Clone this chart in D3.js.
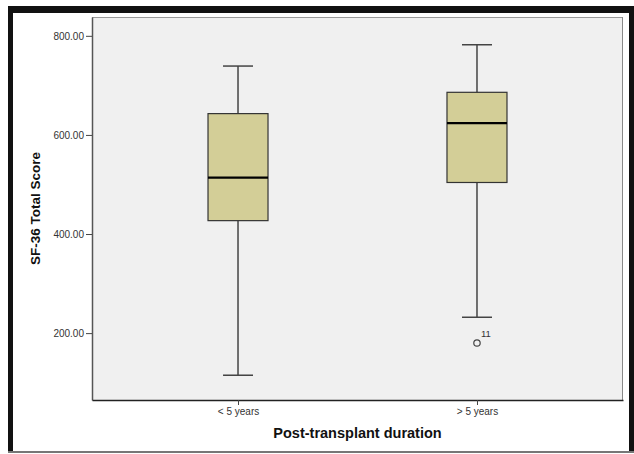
<!DOCTYPE html>
<html><head><meta charset="utf-8">
<script src="https://cdn.jsdelivr.net/npm/d3@7"></script>
<style>html,body{margin:0;padding:0;background:#fff;}svg{display:block;}</style>
</head><body>
<svg id="c" width="634" height="454"></svg>
<script>
const categories = ["< 5 years", "> 5 years"];
const whiskerLow  = [115, 232];
const q1          = [427, 504];
const median      = [514, 624];
const q3          = [643, 686];
const whiskerHigh = [739, 782];
const outliers    = [{cat: "> 5 years", value: 180, label: "11"}];
const yTicks      = [200, 400, 600, 800];

const svg = d3.select("#c");
const L = 92, R = 623, T = 17, B = 400;

// outer frame
svg.append("rect").attr("x",0).attr("y",0).attr("width",634).attr("height",454).attr("fill","#fff");
svg.append("rect").attr("x",8).attr("y",6).attr("width",626).attr("height",7).attr("fill","#111");
svg.append("rect").attr("x",8).attr("y",6).attr("width",5).attr("height",446).attr("fill","#111");
svg.append("rect").attr("x",629).attr("y",6).attr("width",5).attr("height",446).attr("fill","#111");
svg.append("rect").attr("x",8).attr("y",451).attr("width",626).attr("height",2).attr("fill","#777");

const y = d3.scaleLinear().domain([65, 838]).range([B, T]);
const x = d3.scalePoint().domain(categories).range([L, R]).padding(0.611);

// plot area
svg.append("rect").attr("x",L).attr("y",T).attr("width",R-L).attr("height",B-T)
  .attr("fill","#f0f0f0").attr("stroke","none");
svg.append("line").attr("x1",L).attr("x2",R).attr("y1",T+0.5).attr("y2",T+0.5).attr("stroke","#999");
svg.append("line").attr("x1",R-0.5).attr("x2",R-0.5).attr("y1",T).attr("y2",B).attr("stroke","#888");

// axes
const yAxis = d3.axisLeft(y).tickValues(yTicks).tickFormat(d3.format(".2f")).tickSizeInner(6).tickSizeOuter(0).tickPadding(2);
const gy = svg.append("g").attr("transform",`translate(${L},0)`).call(yAxis);
gy.select(".domain").attr("stroke","#555").attr("stroke-width",1.5);
gy.selectAll(".tick line").attr("stroke","#444");
gy.selectAll(".tick text").attr("fill","#333").style("font-family","Liberation Sans, Arial, sans-serif").style("font-size","10px");

const xAxis = d3.axisBottom(x).tickSizeInner(5).tickSizeOuter(0).tickPadding(3);
const gx = svg.append("g").attr("transform",`translate(0,${B})`).call(xAxis);
gx.select(".domain").attr("stroke","#222").attr("stroke-width",1.5);
gx.selectAll(".tick line").attr("stroke","#444");
gx.selectAll(".tick text").attr("fill","#333").style("font-family","Liberation Sans, Arial, sans-serif").style("font-size","10px");

// titles
svg.append("text").attr("x",(L+R)/2).attr("y",438).attr("text-anchor","middle")
  .style("font-family","Liberation Sans, Arial, sans-serif").style("font-size","14.5px").style("font-weight","bold")
  .attr("fill","#111").text("Post-transplant duration");
svg.append("text").attr("transform",`translate(40,${(T+B)/2}) rotate(-90)`).attr("text-anchor","middle")
  .style("font-family","Liberation Sans, Arial, sans-serif").style("font-size","13.5px").style("font-weight","bold")
  .attr("fill","#111").text("SF-36 Total Score");

// boxes
const boxW = 60, capW = 30;
categories.forEach((c,i) => {
  const cx = x(c);
  const g = svg.append("g");
  g.append("line").attr("x1",cx).attr("x2",cx).attr("y1",y(whiskerHigh[i])).attr("y2",y(q3[i])).attr("stroke","#444").attr("stroke-width",1.5);
  g.append("line").attr("x1",cx).attr("x2",cx).attr("y1",y(q1[i])).attr("y2",y(whiskerLow[i])).attr("stroke","#444").attr("stroke-width",1.5);
  g.append("line").attr("x1",cx-capW/2).attr("x2",cx+capW/2).attr("y1",y(whiskerHigh[i])).attr("y2",y(whiskerHigh[i])).attr("stroke","#444").attr("stroke-width",1.5);
  g.append("line").attr("x1",cx-capW/2).attr("x2",cx+capW/2).attr("y1",y(whiskerLow[i])).attr("y2",y(whiskerLow[i])).attr("stroke","#444").attr("stroke-width",1.5);
  g.append("rect").attr("x",cx-boxW/2).attr("y",y(q3[i])).attr("width",boxW).attr("height",y(q1[i])-y(q3[i]))
    .attr("fill","#d3ce97").attr("stroke","#333").attr("stroke-width",1.2);
  g.append("line").attr("x1",cx-boxW/2).attr("x2",cx+boxW/2).attr("y1",y(median[i])).attr("y2",y(median[i])).attr("stroke","#000").attr("stroke-width",2.2);
});

// outliers
outliers.forEach(o => {
  svg.append("circle").attr("cx",x(o.cat)).attr("cy",y(o.value)).attr("r",3.2)
    .attr("fill","none").attr("stroke","#444").attr("stroke-width",1.2);
  svg.append("text").attr("x",x(o.cat)+4).attr("y",y(o.value)-6)
    .style("font-family","Liberation Sans, Arial, sans-serif").style("font-size","9.5px").attr("fill","#333").text(o.label);
});
</script>
</body></html>
